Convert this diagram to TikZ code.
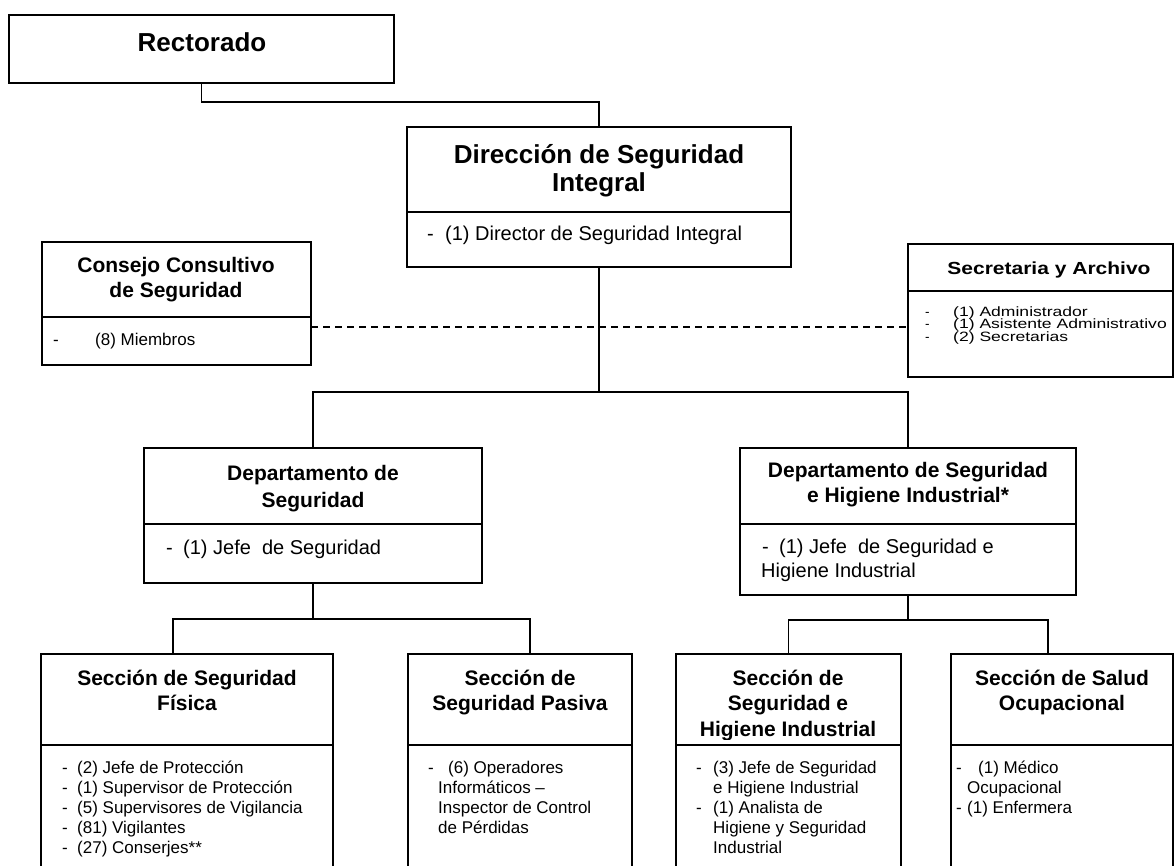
\documentclass[tikz,border=0pt]{standalone}
\usepackage{fontspec}
\setmainfont{Liberation Sans}
\usetikzlibrary{calc}
\newcommand\mybox[5]{\node[box, minimum width={#4-#2}, minimum height={#5-#3}] (#1) at (#2,#3) {};}
\newcommand\dsh[2]{\makebox[#1pt][l]{-}#2}
\begin{document}
\begin{tikzpicture}[x=1pt,y=-1pt,
  box/.style={draw, line width=1.3pt, inner sep=0pt, outer sep=0pt, anchor=north west},
  conn/.style={line width=1.3pt},
  dashline/.style={line width=1.3pt, dash pattern=on 7pt off 5pt},
  bigt/.style={font=\bfseries\fontsize{26}{28}\selectfont, anchor=base, inner sep=0pt},
  ttl/.style={font=\bfseries\fontsize{21}{25}\selectfont, anchor=base, inner sep=0pt},
  itA/.style={font=\fontsize{20}{23}\selectfont, anchor=base west, inner sep=0pt},
  itB/.style={font=\fontsize{17}{20}\selectfont, anchor=base west, inner sep=0pt},
  secT/.style={font=\bfseries\fontsize{17.5}{20}\selectfont, anchor=base, inner sep=0pt},
  secI/.style={font=\fontsize{13.5}{12.5}\selectfont, anchor=base west, inner sep=0pt}]
\useasboundingbox (0,0) rectangle (1175,866);
\fill[white] (0,0) rectangle (1175,866);
\clip (0,0) rectangle (1175,866);

% ---- boxes
\mybox{rect}{9}{15}{394}{83}
\mybox{dirT}{407}{127}{791}{212}
\mybox{dirB}{407}{212}{791}{267}
\mybox{conT}{42}{242}{311}{317}
\mybox{conB}{42}{317}{311}{365}
\mybox{secTb}{908}{244}{1173}{291}
\mybox{secB}{908}{291}{1173}{377}
\mybox{dsT}{144}{448}{482}{524}
\mybox{dsB}{144}{524}{482}{583}
\mybox{dhT}{740}{448}{1076}{524}
\mybox{dhB}{740}{524}{1076}{595}
\mybox{fisT}{41}{654}{333}{745}
\mybox{fisB}{41}{745}{333}{900}
\mybox{pasT}{408}{654}{632}{745}
\mybox{pasB}{408}{745}{632}{900}
\mybox{higT}{676}{654}{901}{745}
\mybox{higB}{676}{745}{901}{900}
\mybox{salT}{951}{654}{1173}{745}
\mybox{salB}{951}{745}{1173}{900}

% ---- connectors
\coordinate (jA) at (599,392);
\coordinate (jB) at (313,619);
\coordinate (jC) at (908,620);
\draw[conn] (rect.south) -- ++(0,19) -| (dirT.north);
\draw[conn] (dirB.south) -- (jA);
\draw[conn] (dsT.north) |- (jA) -| (dhT.north);
\draw[conn] (dsB.south) -- (jB);
\draw[conn] ($(fisT.north west)+(132,0)$) |- (jB) -| ($(pasT.north west)+(122,0)$);
\draw[conn] (dhB.south) -- (jC);
\draw[conn] (higT.north) |- (jC) -| ($(salT.north west)+(97,0)$);
\draw[dashline] ([yshift=-10pt]conB.north east) -- ([yshift=-10pt]conB.north east -| secB.west);

% ---- texts
\node[bigt] (t1) at (202,52) {Rectorado};
\node[bigt] (t2) at (599,164) {Dirección de Seguridad};
\node[bigt] (t3) at (599,192) {Integral};
\node[itA] (t4) at (427,241) {\dsh{18}{(1) Director de Seguridad Integral}};

\node[ttl] (c1) at (176,273) {Consejo Consultivo};
\node[ttl] (c2) at (176,298) {de Seguridad};
\node[itB] (c3) at (53,346) {\dsh{42}{(8) Miembros}};

\node[secT] (s1) at (1049,275) {\scalebox{1.2}[1]{Secretaria y Archivo}};
\node[secI] (s2) at (925,316.5) {\dsh{28}{\scalebox{1.3}[1]{(1) Administrador}}};
\node[secI] (s3) at (925,329) {\dsh{28}{\scalebox{1.3}[1]{(1) Asistente Administrativo}}};
\node[secI] (s4) at (925,341.5) {\dsh{28}{\scalebox{1.3}[1]{(2) Secretarias}}};

\node[ttl] (d1) at (313,480) {Departamento de};
\node[ttl] (d2) at (313,507) {Seguridad};
\node[itA] (d3) at (166,554) {\dsh{17}{(1) Jefe\ \ de Seguridad}};

\node[ttl] (h1) at (908,477) {Departamento de Seguridad};
\node[ttl] (h2) at (908,502) {e Higiene Industrial*};
\node[itA] (h3) at (762,553) {\dsh{17}{(1) Jefe\ \ de Seguridad e}};
\node[itA] (h4) at (761,577) {Higiene Industrial};

\node[ttl] (f1) at (187,685) {Sección de Seguridad};
\node[ttl] (f2) at (187,710) {Física};
\node[itB] (f3) at (62,773) {\dsh{15}{(2) Jefe de Protección}};
\node[itB] (f4) at (62,793) {\dsh{15}{(1) Supervisor de Protección}};
\node[itB] (f5) at (62,813) {\dsh{15}{(5) Supervisores de Vigilancia}};
\node[itB] (f6) at (62,833) {\dsh{15}{(81) Vigilantes}};
\node[itB] (f7) at (62,853) {\dsh{15}{(27) Conserjes**}};

\node[ttl] (p1) at (520,685) {Sección de};
\node[ttl] (p2) at (520,710) {Seguridad Pasiva};
\node[itB] (p3) at (428,773) {\dsh{20}{(6) Operadores}};
\node[itB] (p4) at (438,793) {Informáticos –};
\node[itB] (p5) at (438,813) {Inspector de Control};
\node[itB] (p6) at (438,833) {de Pérdidas};

\begin{scope}
\clip (676,654) rectangle (901,739.5);
\node[ttl] (g1) at (788,685) {Sección de};
\node[ttl] (g2) at (788,710) {Seguridad e};
\node[ttl] (g3) at (788,736) {Higiene Industrial};
\end{scope}
\node[itB] (g4) at (696,773) {\dsh{17}{(3) Jefe de Seguridad}};
\node[itB] (g5) at (713,793) {e Higiene Industrial};
\node[itB] (g6) at (696,813) {\dsh{17}{(1) Analista de}};
\node[itB] (g7) at (713,833) {Higiene y Seguridad};
\node[itB] (g8) at (713,853) {Industrial};

\node[ttl] (m1) at (1062,685) {Sección de Salud};
\node[ttl] (m2) at (1062,710) {Ocupacional};
\node[itB] (m3) at (956,773) {\dsh{22}{(1) Médico}};
\node[itB] (m4) at (967,793) {Ocupacional};
\node[itB] (m5) at (956,813) {\dsh{11}{(1) Enfermera}};
\end{tikzpicture}
\end{document}
